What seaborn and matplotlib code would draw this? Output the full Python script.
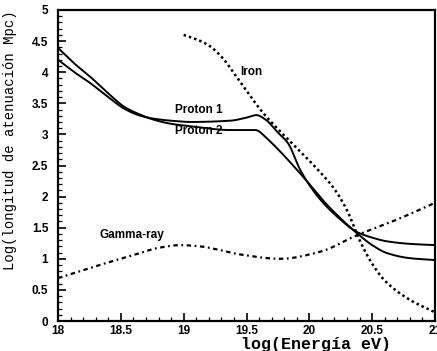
import numpy as np
import pandas as pd
import matplotlib
matplotlib.use("Agg")
import matplotlib.pyplot as plt
from matplotlib.ticker import MultipleLocator, FixedLocator
import seaborn as sns

# ---- data ----
proton_a_x = [18.0, 18.13, 18.26, 18.4, 18.53, 18.64, 18.74, 18.9, 19.06, 19.37, 19.57,
              19.67, 19.77, 19.95, 20.14, 20.38, 20.5, 20.62, 20.8, 21.0]
proton_a_y = [4.39, 4.14, 3.92, 3.66, 3.44, 3.33, 3.25, 3.17, 3.13, 3.07, 3.07,
              2.92, 2.72, 2.32, 1.87, 1.41, 1.22, 1.09, 1.01, 0.98]
proton_b_x = [18.0, 18.13, 18.26, 18.4, 18.53, 18.64, 18.74, 18.9, 19.06, 19.37, 19.5,
              19.58, 19.65, 19.75, 19.83, 19.93, 20.06, 20.22, 20.38, 20.5, 20.62,
              20.8, 21.0]
proton_b_y = [4.2, 4.0, 3.82, 3.6, 3.41, 3.31, 3.26, 3.22, 3.2, 3.22, 3.27,
              3.31, 3.24, 3.03, 2.86, 2.42, 2.02, 1.68, 1.43, 1.34, 1.28,
              1.24, 1.22]
iron_x = [19.0, 19.1, 19.2, 19.3, 19.43, 19.63, 19.85, 20.06, 20.2, 20.3,
          20.4, 20.5, 20.6, 20.8, 21.0]
iron_y = [4.6, 4.53, 4.43, 4.25, 3.9, 3.35, 2.88, 2.45, 2.12, 1.78,
          1.3, 0.92, 0.65, 0.34, 0.14]
gamma_x = [18.0, 18.33, 18.6, 18.81, 18.97, 19.13, 19.29, 19.45, 19.77, 20.08, 20.38,
           20.72, 21.0]
gamma_y = [0.69, 0.9, 1.06, 1.18, 1.22, 1.2, 1.14, 1.07, 1.0, 1.11, 1.38,
           1.65, 1.9]

labels = ["Iron", "Proton 1", "Proton 2", "Gamma-ray"]
label_x = [19.45, 18.93, 18.93, 18.33]
label_y = [4.0, 3.39, 3.05, 1.38]

x_ticks = [18, 18.5, 19, 19.5, 20, 20.5, 21]
x_ticklabels = ["18", "18.5", "19", "19.5", "20", "20.5", "21"]
y_ticks = [0, 0.5, 1, 1.5, 2, 2.5, 3, 3.5, 4, 4.5, 5]
y_ticklabels = ["0", "0.5", "1", "1.5", "2", "2.5", "3", "3.5", "4", "4.5", "5"]

sns.set_style("ticks")
plt.rcParams["font.family"] = ["Liberation Sans", "DejaVu Sans"]

fig = plt.figure(figsize=(4.37, 3.51), dpi=100)
ax = fig.add_axes([58 / 437, 1 - 321 / 351, 377 / 437, 311 / 351])


def pchip(xs, ys, n=400):
    # monotone cubic interpolation through the read points
    xs = np.asarray(xs, float)
    ys = np.asarray(ys, float)
    h = np.diff(xs)
    d = np.diff(ys) / h
    m = np.zeros_like(ys)
    m[0] = d[0]
    m[-1] = d[-1]
    for i in range(1, len(ys) - 1):
        if d[i - 1] * d[i] <= 0:
            m[i] = 0
        else:
            w1 = 2 * h[i] + h[i - 1]
            w2 = h[i] + 2 * h[i - 1]
            m[i] = (w1 + w2) / (w1 / d[i - 1] + w2 / d[i])
    xn = np.linspace(xs[0], xs[-1], n)
    idx = np.clip(np.searchsorted(xs, xn) - 1, 0, len(xs) - 2)
    t = (xn - xs[idx]) / h[idx]
    h00 = 2 * t**3 - 3 * t**2 + 1
    h10 = t**3 - 2 * t**2 + t
    h01 = -2 * t**3 + 3 * t**2
    h11 = t**3 - t**2
    yn = h00 * ys[idx] + h10 * h[idx] * m[idx] + h01 * ys[idx + 1] + h11 * h[idx] * m[idx + 1]
    return xn, yn


for xs, ys, kw in [
    (proton_a_x, proton_a_y, dict(lw=1.4, ls="-")),
    (proton_b_x, proton_b_y, dict(lw=1.4, ls="-")),
    (iron_x, iron_y, dict(lw=1.8, ls=(0, (1.0, 1.2)))),
    (gamma_x, gamma_y, dict(lw=1.6, ls=(0, (2.0, 1.6, 0.8, 1.6)))),
]:
    xn, yn = pchip(xs, ys)
    sns.lineplot(x=xn, y=yn, ax=ax, color="black", sort=False, **kw)

for t, lx, ly in zip(labels, label_x, label_y):
    ax.text(lx, ly, t, fontsize=8.5, fontweight="bold", ha="left", va="center",
            color="black")

ax.set_xlim(18, 21)
ax.set_ylim(0, 5)
ax.xaxis.set_major_locator(FixedLocator(x_ticks))
ax.set_xticklabels(x_ticklabels)
ax.yaxis.set_major_locator(FixedLocator(y_ticks))
ax.set_yticklabels(y_ticklabels)
ax.xaxis.set_minor_locator(MultipleLocator(0.1))
ax.yaxis.set_minor_locator(MultipleLocator(0.1))
ax.tick_params(which="major", direction="in", length=6, width=1.2, color="black")
ax.tick_params(which="minor", direction="in", length=3, width=0.9, color="black")
ax.tick_params(axis="y", which="major", pad=7)
ax.tick_params(axis="x", which="major", pad=3)
for lab in ax.get_xticklabels() + ax.get_yticklabels():
    lab.set_fontweight("bold")
    lab.set_fontsize(8.5)
    lab.set_color("black")
for s in ax.spines.values():
    s.set_color("black")
    s.set_linewidth(1.6)

ax.set_xlabel("log(Energía eV)", fontfamily="Liberation Mono", fontweight="bold",
              fontsize=12, color="black")
ax.xaxis.set_label_coords(0.685, -0.052)
ax.set_ylabel("Log(longitud de atenuación Mpc)", fontfamily="Liberation Mono",
              fontsize=10, color="black")
ax.yaxis.set_label_coords(-0.11, 0.58)

fig.savefig("out.png", dpi=100)
